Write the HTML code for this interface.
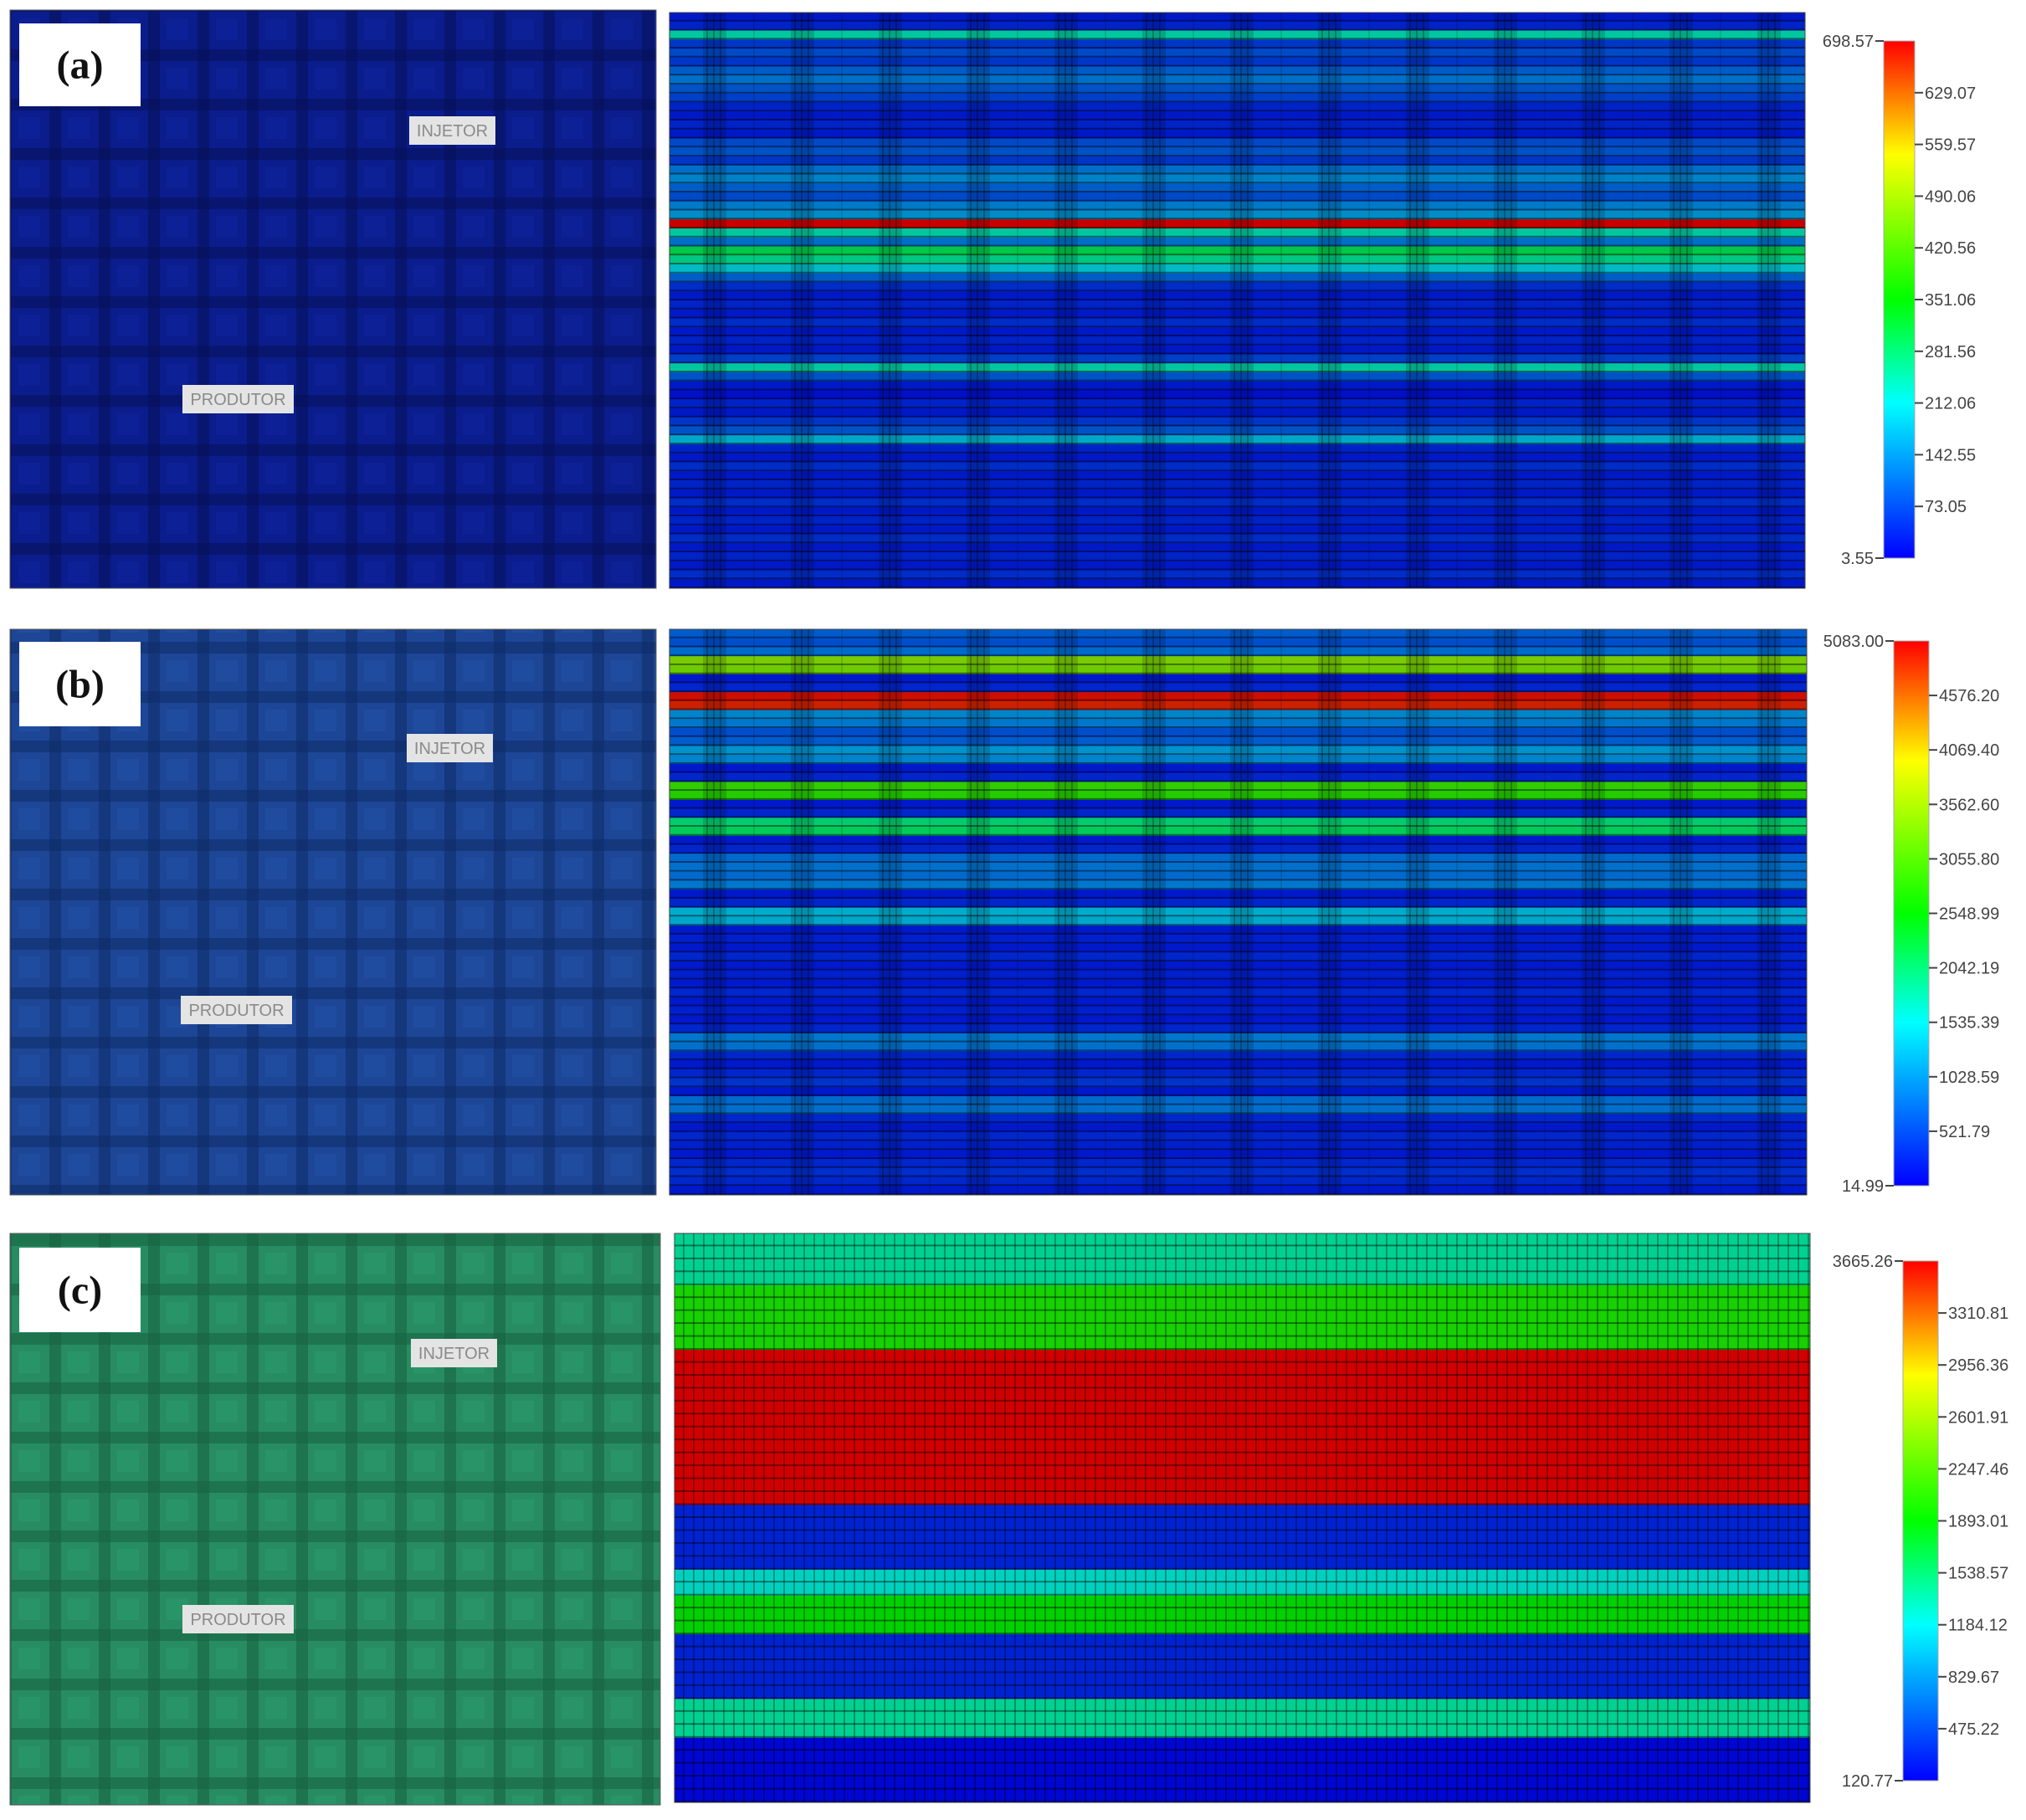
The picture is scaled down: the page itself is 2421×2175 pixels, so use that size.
<!DOCTYPE html>
<html><head><meta charset="utf-8">
<style>
html,body{margin:0;padding:0;background:#fff;}
svg{display:block;}
</style></head>
<body>
<svg id="fig" width="2421" height="2175" viewBox="0 0 2421 2175" xmlns="http://www.w3.org/2000/svg">
<defs>
 <linearGradient id="jet" x1="0" y1="1" x2="0" y2="0">
  <stop offset="0" stop-color="#0000ff"/><stop offset="0.3" stop-color="#00ffff"/>
  <stop offset="0.5" stop-color="#00ff00"/><stop offset="0.78" stop-color="#ffff00"/>
  <stop offset="1" stop-color="#ff0000"/>
 </linearGradient>
 <pattern id="gridA" width="59" height="59" patternUnits="userSpaceOnUse">
  <rect width="59" height="59" fill="#0b1c8c"/>
  <rect x="0" y="0" width="59" height="14" fill="#061058" opacity="0.55"/>
  <rect x="0" y="0" width="14" height="59" fill="#061058" opacity="0.55"/>
  <rect x="22" y="22" width="26" height="26" fill="#1228a8" opacity="0.35"/>
 </pattern>
 <pattern id="gridB" width="59" height="59" patternUnits="userSpaceOnUse">
  <rect width="59" height="59" fill="#1d4696"/>
  <rect x="0" y="0" width="59" height="14" fill="#0f2a66" opacity="0.55"/>
  <rect x="0" y="0" width="14" height="59" fill="#0f2a66" opacity="0.55"/>
  <rect x="22" y="22" width="26" height="26" fill="#2656b0" opacity="0.35"/>
 </pattern>
 <pattern id="gridC" width="59" height="59" patternUnits="userSpaceOnUse">
  <rect width="59" height="59" fill="#278c62"/>
  <rect x="0" y="0" width="59" height="14" fill="#16603f" opacity="0.55"/>
  <rect x="0" y="0" width="14" height="59" fill="#16603f" opacity="0.55"/>
  <rect x="22" y="22" width="26" height="26" fill="#31a476" opacity="0.35"/>
 </pattern>
 <pattern id="vstripes" width="105" height="10" patternUnits="userSpaceOnUse">
  <rect x="0" y="0" width="28" height="10" fill="#000" opacity="0.16"/>
  <rect x="4" y="0" width="2" height="10" fill="#000" opacity="0.25"/>
  <rect x="12" y="0" width="2" height="10" fill="#000" opacity="0.25"/>
  <rect x="20" y="0" width="2" height="10" fill="#000" opacity="0.25"/>
  <rect x="60" y="0" width="2" height="10" fill="#000" opacity="0.12"/>
 </pattern>
 <pattern id="vgridC" width="12" height="10" patternUnits="userSpaceOnUse">
  <rect x="0" y="0" width="2" height="10" fill="#000" opacity="0.3"/>
 </pattern>
</defs>
<g id="root"></g>
</svg>
<script>
// ---- data ----
const rowsA = [30,40,240,60,80,60,100,120,90,70,40,30,40,30,80,90,60,120,140,100,80,130,150,698,240,120,300,260,200,100,50,30,40,30,50,30,40,30,70,240,90,30,20,40,30,60,90,180,40,30,50,30,40,30,50,30,40,30,50,30,40,30,50,30];
const rowsB = [700,600,800,3400,3300,200,300,5000,4900,1000,900,600,700,1100,1000,200,300,2900,2800,200,300,2000,2100,200,300,800,850,800,900,200,300,1300,1250,200,250,200,300,200,250,200,300,200,250,200,300,900,850,300,200,300,400,200,800,850,300,200,300,250,200,300,350,300,200];
const rowsC = [1400,1400,1400,1400,2000,2000,2000,2000,2000,3665,3665,3665,3665,3665,3665,3665,3665,3665,3665,3665,3665,300,300,300,300,300,1250,1250,1900,1900,1900,300,300,300,300,300,1400,1400,1400,150,150,150,150,150];
const ticksA = [698.57,629.07,559.57,490.06,420.56,351.06,281.56,212.06,142.55,73.05,3.55];
const ticksB = [5083.00,4576.20,4069.40,3562.60,3055.80,2548.99,2042.19,1535.39,1028.59,521.79,14.99];
const ticksC = [3665.26,3310.81,2956.36,2601.91,2247.46,1893.01,1538.57,1184.12,829.67,475.22,120.77];

const NS = "http://www.w3.org/2000/svg";
const root = document.getElementById('root');
function mk(tag, attrs, parent){const e=document.createElementNS(NS,tag);for(const k in attrs)e.setAttribute(k,attrs[k]);(parent||root).appendChild(e);return e;}

const stops=[[0,[0,0,255]],[0.3,[0,255,255]],[0.5,[0,255,0]],[0.78,[255,255,0]],[1,[255,0,0]]];
function jet(t,shade){t=Math.max(0,Math.min(1,t));let i=0;while(i<stops.length-2&&t>stops[i+1][0])i++;
 const [a,ca]=stops[i],[b,cb]=stops[i+1];const f=(t-a)/(b-a);
 const c=ca.map((v,k)=>Math.round((v+(cb[k]-v)*f)*shade));return `rgb(${c[0]},${c[1]},${c[2]})`;}

const SANS='font-family:"Liberation Sans",sans-serif';
const SERIF='font-family:"Liberation Serif",serif';

const panels=[
 {id:'a',rows:rowsA,ticks:ticksA,shade:0.78,grid:'gridA',left:[12,12,772,691],right:[800,15,1357,688],bar:[2251,49,37,618],box:[23,28,145,99],inj:[489,139],prod:[218,460],vover:'vstripes'},
 {id:'b',rows:rowsB,ticks:ticksB,shade:0.8,grid:'gridB',left:[12,752,772,676],right:[800,752,1359,676],bar:[2263,766,42,651],box:[23,767,145,101],inj:[486,877],prod:[216,1190],vover:'vstripes'},
 {id:'c',rows:rowsC,ticks:ticksC,shade:0.82,grid:'gridC',left:[12,1474,777,683],right:[806,1474,1357,680],bar:[2274,1507,42,621],box:[23,1491,145,101],inj:[491,1600],prod:[218,1918],vover:'vgridC'}
];

panels.forEach(p=>{
 const g=mk('g',{});
 
 
 const [lx,ly,lw,lh]=p.left;
 const lm=mk('rect',{x:lx,y:ly,width:lw,height:lh,fill:`url(#${p.grid})`,stroke:'#555','stroke-width':1},g);
 
 
 const [bx,by,bw,bh]=p.box;
 const lb=mk('rect',{x:bx,y:by,width:bw,height:bh,fill:'#fff'},g);
 
 
 const lt=mk('text',{x:bx+bw/2,y:by+bh/2+16,'text-anchor':'middle','font-size':48,'font-weight':'bold',style:SERIF,fill:'#111'},g);
 lt.textContent='('+p.id+')';
 
 
 [['INJETOR',p.inj,103],['PRODUTOR',p.prod,133]].forEach(([t,pos,w])=>{
  const r=mk('rect',{x:pos[0],y:pos[1],width:w,height:34,fill:'#e4e4e4'},g);
  
  
  const tx=mk('text',{x:pos[0]+w/2,y:pos[1]+24,'text-anchor':'middle','font-size':20,style:SANS,fill:'#8a8a8a'},g);
  tx.textContent=t;
  
  
 });
 const [rx,ry,rw,rh]=p.right;
 const vmin=p.ticks[p.ticks.length-1], vmax=p.ticks[0];
 const n=p.rows.length, h=rh/n;
 p.rows.forEach((v,i)=>{
  const r=mk('rect',{x:rx,y:ry+i*h,width:rw,height:h+0.5,fill:jet((v-vmin)/(vmax-vmin),p.shade)},g);
  
  
  const l=mk('rect',{x:rx,y:ry+(i+1)*h-2,width:rw,height:2,fill:'#000',opacity:0.45},g);
  
  
 });
 const ov=mk('rect',{x:rx,y:ry,width:rw,height:rh,fill:`url(#${p.vover})`,stroke:'#444','stroke-width':1},g);
 
 
 const [cx,cy,cw,ch]=p.bar;
 const cb=mk('rect',{x:cx,y:cy,width:cw,height:ch,fill:'url(#jet)',stroke:'#aaa','stroke-width':1},g);
 
 
 p.ticks.forEach((t,i)=>{
  const y=cy+ch*(vmax-t)/(vmax-vmin);
  const end=(i===0||i===p.ticks.length-1);
  const x1=end?cx-10:cx+cw, x2=end?cx:cx+cw+10;
  const tk=mk('line',{x1:x1,y1:y,x2:x2,y2:y,stroke:'#444','stroke-width':2},g);
  
  
  const tx=mk('text',{x:end?cx-12:cx+cw+12,y:y+7,'text-anchor':end?'end':'start','font-size':20,style:SANS,fill:'#444'},g);
  tx.textContent=t.toFixed(2);
  
  
 });
});
</script>
</body></html>
